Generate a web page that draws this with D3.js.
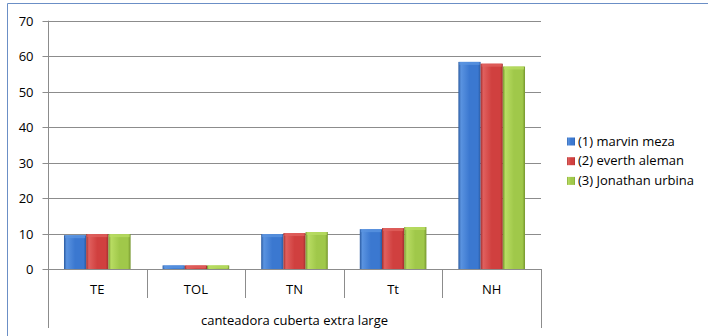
<!DOCTYPE html>
<html>
<head>
<meta charset="utf-8">
<script src="https://cdn.jsdelivr.net/npm/d3@7"></script>
<style>
  html, body { margin: 0; padding: 0; background: #fff; }
  svg { display: block; }
  text { font-family: "Open Sans", "Noto Sans", sans-serif; fill: #000; }
</style>
</head>
<body>
<svg id="chart" width="708" height="336"></svg>
<script>
const categories = ["TE", "TOL", "TN", "Tt", "NH"];
const seriesNames = ["(1) marvin meza", "(2) everth aleman", "(3) Jonathan urbina"];
const marvinMeza = [9.6, 1.1, 9.9, 11.3, 58.4];
const everthAleman = [9.9, 1.1, 10.2, 11.6, 57.9];
const jonathanUrbina = [9.9, 1.1, 10.5, 11.9, 57.1];
const yTicks = [0, 10, 20, 30, 40, 50, 60, 70];
const axisTitle = "canteadora cuberta extra large";

const seriesValues = [marvinMeza, everthAleman, jonathanUrbina];
const colors = [
  { base: "#3b78d0", light: "#5a93e0", dark: "#2a5aa0" },
  { base: "#d0403f", light: "#e0605e", dark: "#a02e2e" },
  { base: "#a0c84a", light: "#b8dc62", dark: "#76962e" }
];
const fontSize = 13;

const svg = d3.select("#chart");
const plotLeft = 48, plotRight = 541, plotTop = 20.7, plotBottom = 269.3;

// frame (left and top borders visible)
svg.append("line").attr("x1", 7.5).attr("x2", 708).attr("y1", 3.5).attr("y2", 3.5)
  .attr("stroke", "#6b8fc6").attr("stroke-width", 1);
svg.append("line").attr("x1", 7.5).attr("x2", 7.5).attr("y1", 3.5).attr("y2", 336)
  .attr("stroke", "#6b8fc6").attr("stroke-width", 1);

const defs = svg.append("defs");
colors.forEach((c, i) => {
  const g = defs.append("linearGradient").attr("id", "grad" + i)
    .attr("x1", "0").attr("x2", "1").attr("y1", "0").attr("y2", "0");
  g.append("stop").attr("offset", "0%").attr("stop-color", c.dark);
  g.append("stop").attr("offset", "12%").attr("stop-color", c.light);
  g.append("stop").attr("offset", "50%").attr("stop-color", c.base);
  g.append("stop").attr("offset", "88%").attr("stop-color", c.base);
  g.append("stop").attr("offset", "100%").attr("stop-color", c.dark);
});

const y = d3.scaleLinear().domain([0, 70]).range([plotBottom, plotTop]);
const x0 = d3.scaleBand().domain(categories).range([plotLeft, plotRight]).paddingInner(0).paddingOuter(0);
const bw = x0.bandwidth();
const x1 = d3.scaleBand().domain(d3.range(seriesNames.length))
  .range([0, bw]).paddingInner(0).paddingOuter(0.72);

// gridlines
svg.append("g").selectAll("line").data(yTicks.filter(t => t > 0)).join("line")
  .attr("x1", plotLeft).attr("x2", plotRight)
  .attr("y1", d => Math.round(y(d)) + 0.5).attr("y2", d => Math.round(y(d)) + 0.5)
  .attr("stroke", "#8c8c8c").attr("stroke-width", 1);

// y axis
const yAxis = d3.axisLeft(y).tickValues(yTicks).tickSize(6).tickPadding(9).tickFormat(d3.format("d"));
const yg = svg.append("g").attr("transform", `translate(${plotLeft + 0.5},0.5)`).call(yAxis);
yg.select(".domain").remove();
yg.selectAll(".tick line").attr("stroke", "#8c8c8c");
yg.selectAll(".tick text").attr("font-size", fontSize).attr("font-family", "'Open Sans', sans-serif").attr("fill", "#000");
yg.selectAll(".tick").attr("transform", d => `translate(0,${Math.round(y(d))})`);

// bars
seriesValues.forEach((vals, si) => {
  svg.append("g").selectAll("rect").data(vals).join("rect")
    .attr("x", (d, i) => x0(categories[i]) + x1(si))
    .attr("y", d => y(d))
    .attr("width", x1.bandwidth())
    .attr("height", d => y(0) - y(d))
    .attr("fill", `url(#grad${si})`);
  svg.append("g").selectAll("rect").data(vals).join("rect")
    .attr("x", (d, i) => x0(categories[i]) + x1(si) + 1)
    .attr("y", d => y(d))
    .attr("width", x1.bandwidth() - 2)
    .attr("height", d => Math.min(3, y(0) - y(d)))
    .attr("fill", colors[si].light).attr("opacity", 0.8);
});

// axis lines
const axisColor = "#8c8c8c";
svg.append("line").attr("x1", plotLeft + 0.5).attr("x2", plotLeft + 0.5).attr("y1", plotTop).attr("y2", 328)
  .attr("stroke", axisColor);
svg.append("line").attr("x1", plotLeft).attr("x2", plotRight).attr("y1", Math.round(plotBottom) + 0.5).attr("y2", Math.round(plotBottom) + 0.5)
  .attr("stroke", axisColor);
svg.append("line").attr("x1", plotRight + 0.5).attr("x2", plotRight + 0.5).attr("y1", Math.round(plotBottom)).attr("y2", 328)
  .attr("stroke", axisColor);
svg.append("g").selectAll("line").data(categories.slice(1)).join("line")
  .attr("x1", d => Math.round(x0(d)) + 0.5).attr("x2", d => Math.round(x0(d)) + 0.5)
  .attr("y1", Math.round(plotBottom)).attr("y2", 298)
  .attr("stroke", axisColor);

// category labels
svg.append("g").selectAll("text").data(categories).join("text")
  .attr("x", d => x0(d) + bw / 2).attr("y", 294)
  .attr("text-anchor", "middle").attr("font-size", fontSize).text(d => d);

// axis title
svg.append("text").attr("x", (plotLeft + plotRight) / 2).attr("y", 325)
  .attr("text-anchor", "middle").attr("font-size", fontSize).text(axisTitle);

// legend
const lg = svg.append("g");
seriesNames.forEach((name, i) => {
  const yy = 145.5 + i * 19.7;
  lg.append("rect").attr("x", 567).attr("y", yy - 8).attr("width", 8).attr("height", 8)
    .attr("fill", `url(#grad${i})`);
  lg.append("text").attr("x", 578).attr("y", yy).attr("font-size", fontSize).text(name);
});
</script>
</body>
</html>
